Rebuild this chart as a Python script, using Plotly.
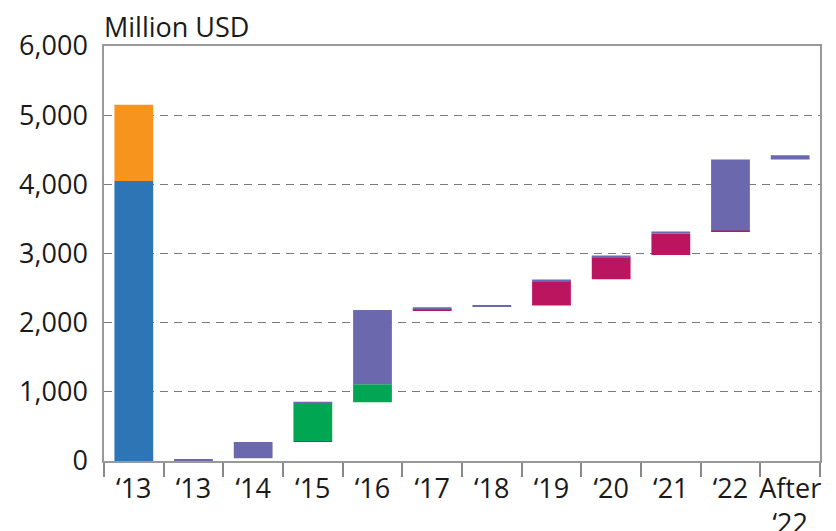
import plotly.graph_objects as go

# ---- data ----
tick_labels = ["\u201813", "\u201813", "\u201814", "\u201815", "\u201816", "\u201817",
               "\u201818", "\u201819", "\u201820", "\u201821", "\u201822", "After<br>\u201822"]
start_values = [0, 0, 40, 275, 848, 2180, 2225, 2250, 2626, 2977, 3320, 4360]
blue_values = [4050, 0, 0, 0, 0, 0, 0, 0, 0, 0, 0, 0]
orange_values = [1100, 0, 0, 0, 0, 0, 0, 0, 0, 0, 0, 0]
magenta_values = [0, 0, 0, 12, 0, 12, 0, 350, 318, 313, 12, 0]
green_values = [0, 0, 0, 545, 260, 0, 0, 0, 0, 0, 0, 0]
purple_values = [0, 30, 235, 25, 1075, 32, 30, 25, 28, 29, 1028, 60]
y_ticks = [0, 1000, 2000, 3000, 4000, 5000, 6000]

series = [
    ("blue", blue_values, "#2e75b6"),
    ("orange", orange_values, "#f7941d"),
    ("magenta", magenta_values, "#bc1560"),
    ("green", green_values, "#00a651"),
    ("purple", purple_values, "#6b68ae"),
]

x_pos = list(range(len(tick_labels)))
FONT = "Open Sans, Noto Sans, sans-serif"
FSIZE = 27

fig = go.Figure()
running = list(start_values)
for name, vals, color in series:
    fig.add_trace(go.Bar(
        x=x_pos, y=vals, base=list(running), name=name,
        marker=dict(color=color, line=dict(width=0)),
        width=0.65, showlegend=False,
    ))
    running = [r + v for r, v in zip(running, vals)]

fig.update_layout(
    width=836, height=531,
    margin=dict(l=104, r=16, t=46, b=70, autoexpand=False),
    barmode="overlay",
    plot_bgcolor="white", paper_bgcolor="white",
    font=dict(family=FONT, size=FSIZE, color="#1a1a1a"),
    annotations=[dict(
        text="Million USD", xref="paper", yref="paper", x=0, y=1,
        xanchor="left", yanchor="bottom", yshift=-1, xshift=-2, showarrow=False,
        font=dict(family=FONT, size=FSIZE, color="#1a1a1a"),
    )],
)

fig.update_xaxes(
    range=[-0.5, 11.5], automargin=False,
    tickmode="array", tickvals=x_pos, ticktext=tick_labels,
    ticks="outside", ticklen=3, tickcolor="rgba(0,0,0,0)",
    minor=dict(tickmode="array", tickvals=[i - 0.5 for i in range(len(tick_labels) + 1)],
               ticks="outside", ticklen=14, tickcolor="#888", tickwidth=1.5),
    showline=True, linecolor="#999", linewidth=1.5, mirror=True,
    showgrid=False, zeroline=False,
)
fig.update_yaxes(
    range=[0, 6000], automargin=False,
    tickmode="array", tickvals=y_ticks, tickformat=",",
    ticks="outside", ticklen=9, tickcolor="rgba(0,0,0,0)",
    showline=True, linecolor="#999", linewidth=1.5, mirror=True,
    showgrid=True, gridcolor="#7a7a7a", gridwidth=1.3, griddash="8px,6px",
    zeroline=False,
)

fig.write_html("out.html", config={"displayModeBar": False},
               post_script="document.body.style.margin='0px';")
